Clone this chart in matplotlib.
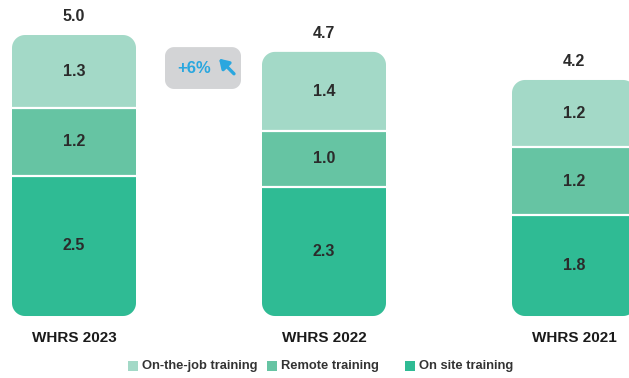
import numpy as np
import matplotlib.pyplot as plt
from matplotlib.patches import PathPatch, Rectangle
from matplotlib.path import Path
from matplotlib.transforms import IdentityTransform

plt.rcParams['font.family'] = ['Liberation Sans', 'DejaVu Sans']

# training hours per employee, stacked bottom -> top
years = ['WHRS 2023', 'WHRS 2022', 'WHRS 2021']
on_site = [2.5, 2.3, 1.8]
remote = [1.2, 1.0, 1.2]
on_the_job = [1.3, 1.4, 1.2]
totals = [5.0, 4.7, 4.2]
change_label = '+6%'

series = [('On site training', on_site, '#2fbb94'),
          ('Remote training', remote, '#66c4a3'),
          ('On-the-job training', on_the_job, '#a3d9c7')]

fig = plt.figure(figsize=(6.29, 3.78), dpi=100)
ax = fig.add_axes([0, 0, 1, 1])
ax.set_xlim(-0.296, 2.22)
ax.set_ylim(-1.103, 5.623)
ax.axis('off')

width = 0.496
radius = 13  # px


def rounded_box(x0, y0, x1, y1, r_top, r_bot, **kw):
    # rectangle in pixel space with optional rounded top / bottom corners
    (px0, py0), (px1, py1) = ax.transData.transform([(x0, y0), (x1, y1)])
    t = np.linspace(0, np.pi / 2, 16)
    corners = [(px1, py1, r_top, 0), (px0, py1, r_top, np.pi / 2),
               (px0, py0, r_bot, np.pi), (px1, py0, r_bot, 1.5 * np.pi)]
    verts = []
    for cx, cy, r, a0 in corners:
        # shift the arc centre inwards from the corner
        ccx = cx - r * np.sign(np.cos(a0 + np.pi / 4))
        ccy = cy - r * np.sign(np.sin(a0 + np.pi / 4))
        verts += list(zip(ccx + r * np.cos(a0 + t), ccy + r * np.sin(a0 + t)))
    verts.append(verts[0])
    return PathPatch(Path(verts, closed=True), transform=IdentityTransform(), **kw)


for i, year in enumerate(years):
    x0 = i - width / 2
    bottom = 0
    for k, (name, vals, color) in enumerate(series):
        v = vals[i]
        r_bot = radius if k == 0 else 0
        r_top = radius if k == len(series) - 1 else 0
        ax.add_patch(rounded_box(x0, bottom, x0 + width, bottom + v, r_top, r_bot,
                                 facecolor=color, edgecolor='none'))
        if k > 0:
            ax.plot([x0, x0 + width], [bottom, bottom], color='white', lw=1.6,
                    solid_capstyle='butt')
        ax.text(i, bottom + v / 2, '%.1f' % v, ha='center', va='center',
                fontsize=11.5, fontweight='bold', color='#2b2b2b')
        bottom += v
    ax.text(i, totals[i] + 0.33, '%.1f' % totals[i], ha='center', va='center',
            fontsize=11.5, fontweight='bold', color='#2b2b2b')
    ax.text(i, -0.4, year, ha='center', va='center',
            fontsize=11, fontweight='bold', color='#1a1a1a')

# growth badge between first two bars
badge = rounded_box(0.364, 4.04, 0.668, 4.785, 9, 9,
                    facecolor='#d3d4d6', edgecolor='none')
ax.add_patch(badge)
ax.text(0.48, 4.41, change_label, ha='center', va='center',
        fontsize=12, fontweight='bold', color='#2aa7df')
ax.annotate('', xy=(0.58, 4.58), xytext=(0.64, 4.31),
            arrowprops=dict(arrowstyle='-|>,head_length=0.55,head_width=0.35',
                            color='#2aa7df', lw=2.4, shrinkA=0, shrinkB=0))

# legend entries placed by hand (uneven gaps)
legend_x = [128, 267, 405]   # px from left
legend_y = 366               # px from top
for (name, _, color), lx in zip(reversed(series), legend_x):
    fig.patches.append(Rectangle((lx, 378 - legend_y - 5), 10, 10,
                                 facecolor=color, edgecolor='none',
                                 transform=IdentityTransform(), figure=fig))
    fig.text((lx + 14) / 629, (378 - legend_y) / 378, name, ha='left', va='center',
             fontsize=9.3, fontweight='bold', color='#333333')

fig.savefig('out.png', dpi=100)
